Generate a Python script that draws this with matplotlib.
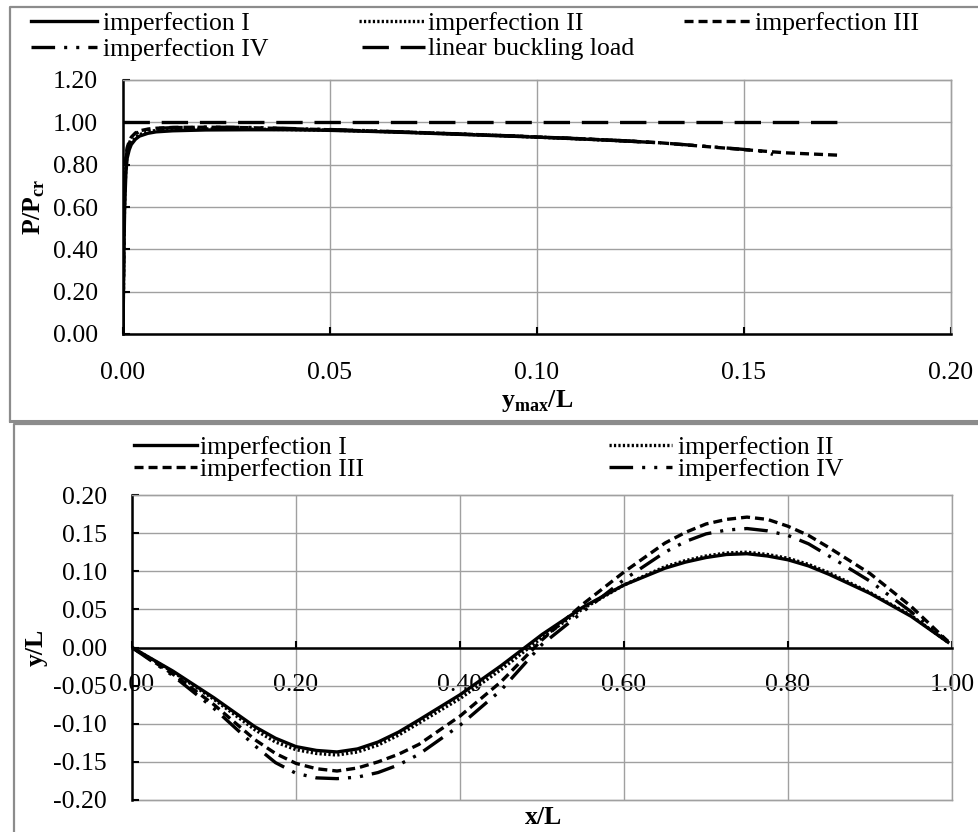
import matplotlib
matplotlib.use("Agg")
import matplotlib.pyplot as plt
from matplotlib.lines import Line2D
from matplotlib.ticker import FormatStrFormatter

# ---------------- data: load vs. maximum lateral deflection ----------------
ymax_I = [0, 0.0002, 0.0004, 0.0007, 0.001, 0.0015, 0.002, 0.003, 0.004, 0.006, 0.008, 0.012,
          0.02, 0.03, 0.04, 0.05, 0.06, 0.07, 0.08, 0.09, 0.10, 0.11, 0.12, 0.128]
load_I = [0, 0.35, 0.60, 0.76, 0.83, 0.87, 0.895, 0.92, 0.935, 0.948, 0.955, 0.960,
          0.964, 0.965, 0.965, 0.962, 0.957, 0.951, 0.944, 0.937, 0.930, 0.922, 0.913, 0.905]

ymax_II = [0, 0.0002, 0.0004, 0.0007, 0.001, 0.0015, 0.002, 0.003, 0.004, 0.006, 0.008, 0.012,
           0.02, 0.03, 0.04, 0.05, 0.06, 0.07, 0.08, 0.09, 0.10, 0.11, 0.12, 0.125]
load_II = [0, 0.40, 0.64, 0.79, 0.85, 0.885, 0.905, 0.928, 0.942, 0.955, 0.962, 0.967,
           0.969, 0.968, 0.966, 0.963, 0.958, 0.952, 0.945, 0.938, 0.930, 0.922, 0.913, 0.908]

ymax_III = [0, 0.0002, 0.0004, 0.0007, 0.001, 0.0015, 0.002, 0.003, 0.004, 0.006, 0.008, 0.012,
            0.02, 0.03, 0.04, 0.05, 0.06, 0.07, 0.08, 0.09, 0.10, 0.11, 0.12, 0.13, 0.14, 0.15,
            0.16, 0.1725]
load_III = [0, 0.45, 0.70, 0.83, 0.88, 0.91, 0.93, 0.95, 0.96, 0.968, 0.972, 0.976,
            0.977, 0.975, 0.970, 0.965, 0.959, 0.953, 0.946, 0.939, 0.931, 0.923, 0.914, 0.903,
            0.887, 0.871, 0.856, 0.845]

ymax_IV = [0, 0.0002, 0.0004, 0.0007, 0.001, 0.0015, 0.002, 0.003, 0.004, 0.006, 0.008, 0.012,
           0.02, 0.03, 0.04, 0.05, 0.06, 0.07, 0.08, 0.09, 0.10, 0.11, 0.12, 0.13, 0.14, 0.15,
           0.155, 0.157]
load_IV = [0, 0.42, 0.68, 0.82, 0.87, 0.90, 0.925, 0.945, 0.957, 0.966, 0.971, 0.975,
           0.977, 0.976, 0.971, 0.966, 0.960, 0.953, 0.946, 0.939, 0.931, 0.923, 0.914, 0.903,
           0.888, 0.872, 0.862, 0.848]

ymax_lin = [0.0, 0.1725]
load_lin = [1.0, 1.0]

# ---------------- data: deflected shape along the member ----------------
x_pos = [0.0, 0.05, 0.10, 0.15, 0.175, 0.20, 0.225, 0.25, 0.275, 0.30, 0.325, 0.35, 0.40,
         0.45, 0.50, 0.55, 0.60, 0.65, 0.675, 0.70, 0.725, 0.75, 0.775, 0.80, 0.825, 0.85,
         0.90, 0.95, 0.995]
defl_I = [0.000, -0.031, -0.066, -0.104, -0.119, -0.130, -0.135, -0.137, -0.133, -0.124,
          -0.111, -0.095, -0.062, -0.024, 0.017, 0.053, 0.082, 0.104, 0.112, 0.118, 0.122,
          0.123, 0.120, 0.115, 0.107, 0.096, 0.071, 0.041, 0.007]
defl_II = [0.000, -0.032, -0.068, -0.108, -0.124, -0.134, -0.139, -0.141, -0.137, -0.128,
           -0.115, -0.099, -0.067, -0.029, 0.013, 0.051, 0.082, 0.106, 0.114, 0.120, 0.124,
           0.125, 0.122, 0.117, 0.109, 0.098, 0.072, 0.042, 0.007]
defl_III = [0.000, -0.035, -0.075, -0.121, -0.139, -0.152, -0.159, -0.162, -0.158, -0.150,
            -0.140, -0.127, -0.090, -0.045, 0.010, 0.057, 0.099, 0.137, 0.151, 0.162, 0.168,
            0.171, 0.168, 0.159, 0.147, 0.131, 0.097, 0.054, 0.008]
defl_IV = [0.000, -0.037, -0.080, -0.129, -0.151, -0.165, -0.171, -0.172, -0.170, -0.164,
           -0.154, -0.140, -0.102, -0.056, 0.004, 0.047, 0.089, 0.125, 0.139, 0.149, 0.154,
           0.156, 0.153, 0.147, 0.136, 0.120, 0.087, 0.047, 0.008]

load_xticks = [0.00, 0.05, 0.10, 0.15, 0.20]
load_yticks = [0.00, 0.20, 0.40, 0.60, 0.80, 1.00, 1.20]
shape_xticks = [0.00, 0.20, 0.40, 0.60, 0.80, 1.00]
shape_yticks = [-0.20, -0.15, -0.10, -0.05, 0.00, 0.05, 0.10, 0.15, 0.20]

# ---------------- styling ----------------
plt.rcParams["font.family"] = ["Liberation Serif", "DejaVu Serif"]
plt.rcParams["mathtext.fontset"] = "custom"
plt.rcParams["mathtext.rm"] = "Liberation Serif"
plt.rcParams["mathtext.bf"] = "Liberation Serif:bold"
plt.rcParams["axes.unicode_minus"] = False
plt.rcParams["lines.scale_dashes"] = False

W, H = 979, 832
FS = 18.5
GRID = "#a0a0a0"
BORDER = "#8c8c8c"
LW = 2.4

styles = {
    "I": dict(ls="-"),
    "II": dict(ls=(0, (1.6, 1.6)), dash_capstyle="butt"),
    "III": dict(ls=(0, (6.5, 3.6))),
    "IV": dict(ls=(0, (17, 6.5, 2.2, 6.5, 2.2, 6.5))),
    "lin": dict(ls=(0, (19, 8.5))),
}


def fx(px):
    return px / W


def fy(py):
    return 1 - py / H


fig = plt.figure(figsize=(W / 100, H / 100), dpi=100)

# panel frames
fig.add_artist(Line2D([fx(10), fx(10), fx(985)], [fy(421), fy(7), fy(7)],
                      transform=fig.transFigure, color=BORDER, lw=1.6))
fig.add_artist(Line2D([fx(10), fx(985)], [fy(421), fy(421)],
                      transform=fig.transFigure, color=BORDER, lw=2.2))
fig.add_artist(Line2D([fx(14), fx(14), fx(985)], [fy(840), fy(424), fy(424)],
                      transform=fig.transFigure, color=BORDER, lw=1.6))


def style_axes(ax, pad_x, pad_y):
    ax.grid(True, color=GRID, lw=1.0)
    ax.set_axisbelow(True)
    for s in ("top", "right"):
        ax.spines[s].set_color(GRID)
        ax.spines[s].set_linewidth(1.0)
    for s in ("left", "bottom"):
        ax.spines[s].set_color("black")
        ax.spines[s].set_linewidth(1.8)
    ax.tick_params(axis="both", direction="in", length=5, width=1.5, labelsize=FS, color="black")
    ax.tick_params(axis="x", pad=pad_x)
    ax.tick_params(axis="y", pad=pad_y)
    ax.xaxis.set_major_formatter(FormatStrFormatter("%.2f"))
    ax.yaxis.set_major_formatter(FormatStrFormatter("%.2f"))
    for gl in ax.get_xgridlines() + ax.get_ygridlines():
        gl.set_clip_on(False)


def legend_entry(x0, x1, xt, y, key, label):
    fig.add_artist(Line2D([fx(x0), fx(x1)], [fy(y), fy(y)], transform=fig.transFigure,
                          color="black", lw=LW, **styles[key]))
    fig.text(fx(xt), fy(y), label, fontsize=FS, ha="left", va="center_baseline")


# ---------------- top: load-deflection curves ----------------
L1, R1, T1, B1 = 123, 951, 80, 334
ax1 = fig.add_axes([fx(L1), fy(B1), fx(R1 - L1), (B1 - T1) / H])
ax1.plot(ymax_lin, load_lin, color="black", lw=LW, **styles["lin"])
ax1.plot(ymax_III, load_III, color="black", lw=LW, **styles["III"])
ax1.plot(ymax_IV, load_IV, color="black", lw=LW, **styles["IV"])
ax1.plot(ymax_II, load_II, color="black", lw=LW, **styles["II"])
ax1.plot(ymax_I, load_I, color="black", lw=LW, **styles["I"])
ax1.set_xlim(load_xticks[0], load_xticks[-1])
ax1.set_ylim(load_yticks[0], load_yticks[-1])
ax1.set_xticks(load_xticks)
ax1.set_yticks(load_yticks)
style_axes(ax1, pad_x=20, pad_y=18)
ax1.set_ylabel(r"P/P$_{\mathbf{cr}}$", fontsize=FS, fontweight="bold")
ax1.yaxis.set_label_coords((47 - L1) / (R1 - L1), 0.5)
ax1.set_xlabel(r"y$_{\mathbf{max}}$/L", fontsize=FS, fontweight="bold", va="center")
ax1.xaxis.set_label_coords((537 - L1) / (R1 - L1), -(401 - B1) / (B1 - T1))

legend_entry(31, 97, 103, 21, "I", "imperfection I")
legend_entry(359, 425, 428, 21, "II", "imperfection II")
legend_entry(684, 753, 755, 21, "III", "imperfection III")
legend_entry(31, 97, 103, 47, "IV", "imperfection IV")
legend_entry(362, 425, 428, 47, "lin", "linear buckling load")

# ---------------- bottom: deflected shapes ----------------
L2, R2, T2, B2 = 132, 952, 495, 800
ax2 = fig.add_axes([fx(L2), fy(B2), fx(R2 - L2), (B2 - T2) / H])
ax2.plot(x_pos, defl_III, color="black", lw=LW, **styles["III"])
ax2.plot(x_pos, defl_IV, color="black", lw=LW, **styles["IV"])
ax2.plot(x_pos, defl_II, color="black", lw=LW, **styles["II"])
ax2.plot(x_pos, defl_I, color="black", lw=LW, **styles["I"])
ax2.set_xlim(shape_xticks[0], shape_xticks[-1])
ax2.set_ylim(shape_yticks[0], shape_yticks[-1])
ax2.set_xticks(shape_xticks)
ax2.set_yticks(shape_yticks)
style_axes(ax2, pad_x=19, pad_y=18)
ax2.spines["bottom"].set_position(("data", 0.0))
ax2.axhline(shape_yticks[0], color=GRID, lw=1.0, clip_on=False, zorder=0.5)
ax2.set_ylabel("y/L", fontsize=FS, fontweight="bold")
ax2.yaxis.set_label_coords((48 - L2) / (R2 - L2), 0.5)
fig.text(fx(544), fy(818), "x/L", fontsize=FS, fontweight="bold", ha="center", va="center")

legend_entry(134, 197, 200, 445, "I", "imperfection I")
legend_entry(609, 672, 678, 445, "II", "imperfection II")
legend_entry(134, 197, 200, 467, "III", "imperfection III")
legend_entry(609, 672, 678, 467, "IV", "imperfection IV")

fig.savefig("out.png", dpi=100)
